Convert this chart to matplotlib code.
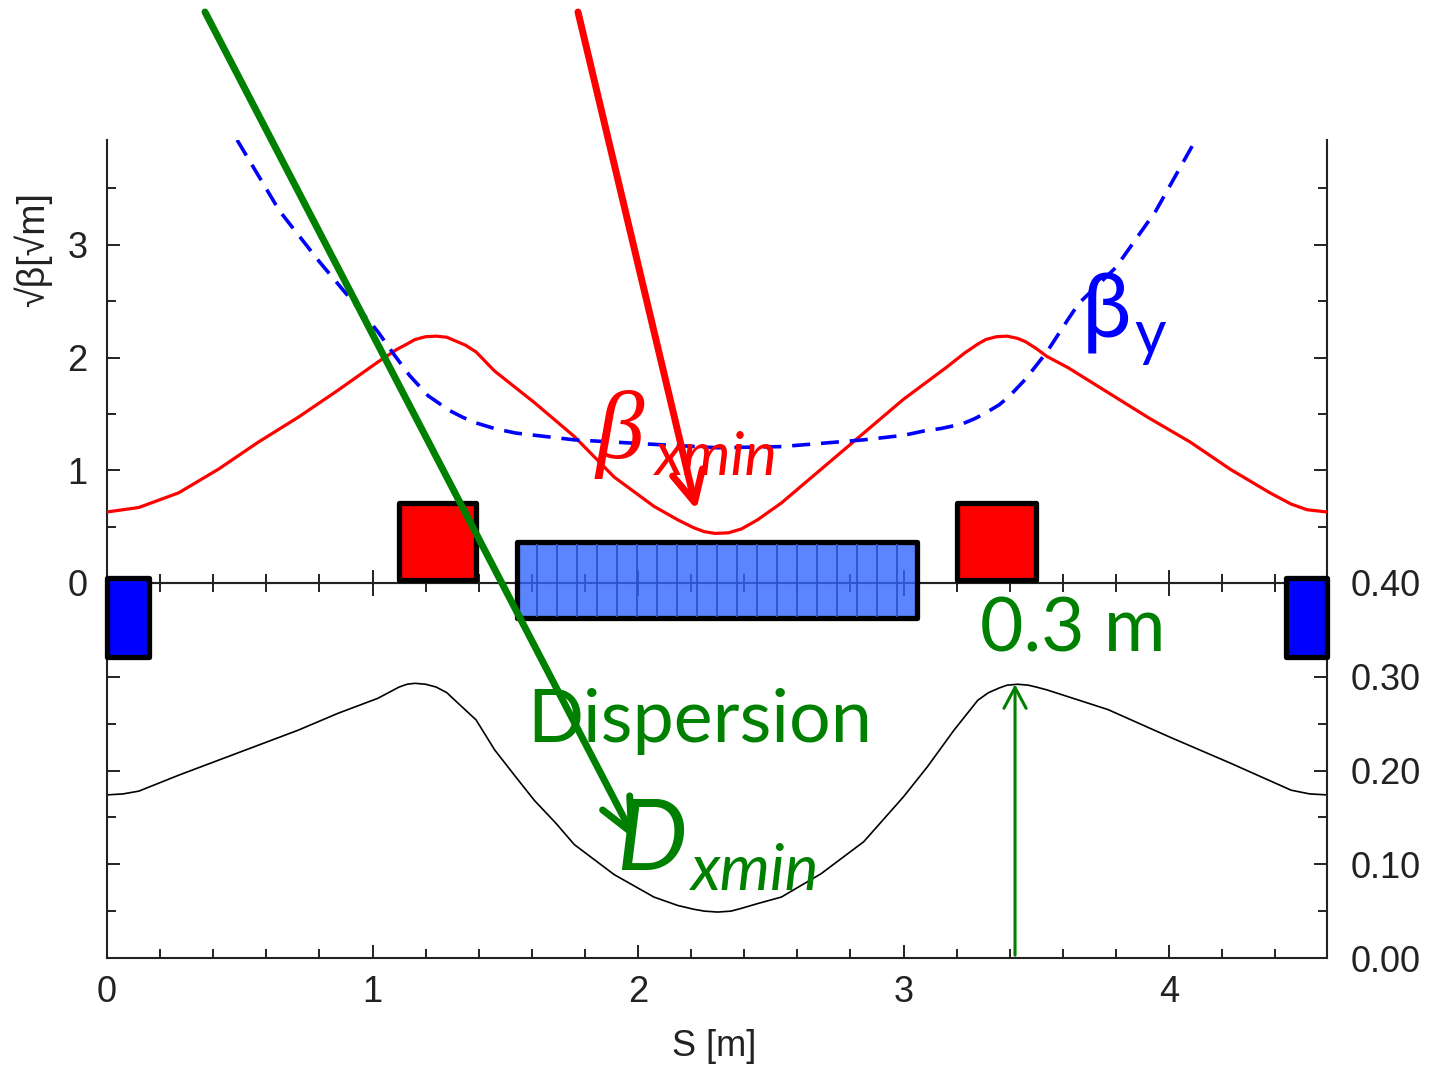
import matplotlib
matplotlib.use("Agg")
import matplotlib.pyplot as plt
from matplotlib.patches import Rectangle
from matplotlib.ticker import MultipleLocator, FormatStrFormatter

# sqrt(beta_x) [sqrt(m)]
s_bx = [0.00, 0.12, 0.27, 0.42, 0.57, 0.72, 0.87, 1.02, 1.09, 1.13, 1.16, 1.20,
        1.24, 1.28, 1.31, 1.35, 1.39, 1.46, 1.61, 1.76, 1.91, 2.06, 2.15, 2.21,
        2.25, 2.29, 2.34, 2.39, 2.45, 2.54, 2.69, 2.85, 3.00, 3.16, 3.23, 3.28,
        3.31, 3.35, 3.39, 3.43, 3.46, 3.50, 3.54, 3.62, 3.77, 3.92, 4.08, 4.23,
        4.38, 4.46, 4.52, 4.595]
bx = [0.63, 0.67, 0.80, 1.01, 1.25, 1.47, 1.71, 1.96, 2.07, 2.12, 2.16, 2.185,
      2.19, 2.18, 2.15, 2.11, 2.05, 1.88, 1.60, 1.30, 0.94, 0.68, 0.56, 0.49,
      0.455, 0.44, 0.445, 0.48, 0.56, 0.71, 1.01, 1.33, 1.63, 1.91, 2.04, 2.12,
      2.16, 2.185, 2.19, 2.17, 2.14, 2.08, 2.01, 1.91, 1.69, 1.47, 1.25, 1.01,
      0.80, 0.70, 0.65, 0.63]

# sqrt(beta_y)
s_by = [0.49, 0.65, 0.80, 0.96, 1.02, 1.08, 1.14, 1.21, 1.29, 1.34, 1.39, 1.46,
        1.54, 1.65, 1.76, 2.06, 2.30, 2.54, 2.85, 3.00, 3.08, 3.14, 3.22, 3.27,
        3.31, 3.36, 3.40, 3.46, 3.54, 3.62, 3.66, 3.80, 3.95, 4.10]
by = [3.93, 3.30, 2.85, 2.40, 2.23, 2.03, 1.84, 1.66, 1.53, 1.47, 1.42, 1.37,
      1.33, 1.30, 1.27, 1.23, 1.20, 1.21, 1.27, 1.31, 1.35, 1.37, 1.41, 1.46,
      1.51, 1.58, 1.66, 1.81, 2.05, 2.34, 2.48, 2.80, 3.30, 3.93]

# dispersion [m]
s_d = [0.00, 0.06, 0.12, 0.27, 0.42, 0.57, 0.72, 0.87, 1.02, 1.10, 1.13, 1.16,
       1.20, 1.24, 1.28, 1.31, 1.39, 1.46, 1.54, 1.61, 1.69, 1.76, 1.91, 2.06,
       2.15, 2.21, 2.25, 2.30, 2.35, 2.39, 2.45, 2.54, 2.69, 2.85, 3.00, 3.09,
       3.19, 3.28, 3.32, 3.36, 3.39, 3.43, 3.47, 3.50, 3.54, 3.77, 4.00, 4.23,
       4.46, 4.53, 4.595]
disp = [0.174, 0.175, 0.178, 0.195, 0.211, 0.227, 0.243, 0.261, 0.277, 0.289,
        0.292, 0.293, 0.292, 0.289, 0.283, 0.275, 0.254, 0.222, 0.193, 0.168,
        0.144, 0.121, 0.089, 0.065, 0.056, 0.052, 0.050, 0.049, 0.050, 0.053,
        0.058, 0.065, 0.090, 0.124, 0.172, 0.204, 0.243, 0.275, 0.283, 0.288,
        0.291, 0.292, 0.291, 0.289, 0.286, 0.265, 0.236, 0.208, 0.179, 0.175,
        0.174]

# lattice elements (start, end) in s [m]
bends = [(0.0, 0.16), (4.44, 4.595)]
quads = [(1.10, 1.39), (3.20, 3.50)]
solenoid = (1.545, 3.05)
n_cells = 20

S_MAX = 4.595
TICK_COL = "#222222"
GREEN = "#008000"
AX_FONT = ["Liberation Sans Narrow", "Liberation Sans", "DejaVu Sans"]
ANN_FONT = ["Lato", "DejaVu Sans"]

fig = plt.figure(figsize=(14.32, 10.67), dpi=100)
W, H = 1432.0, 1067.0
ax1 = fig.add_axes([107 / W, 1 - 583 / H, 1220 / W, 443 / H])
ax2 = fig.add_axes([107 / W, 1 - 958 / H, 1220 / W, 375 / H])
ax1.set_zorder(3)
ax1.patch.set_alpha(0)

ax1.plot(s_bx, bx, color="#ff0000", lw=2.3, zorder=3)
ax1.plot(s_by, by, color="#0000ff", lw=2.6, ls=(0, (5, 3)), zorder=3)
ax2.plot(s_d, disp, color="black", lw=1.2)

for ax in (ax1, ax2):
    ax.set_xlim(0, S_MAX)
    ax.xaxis.set_major_locator(MultipleLocator(1))
    ax.xaxis.set_minor_locator(MultipleLocator(0.2))
    for sp in ax.spines.values():
        sp.set_color(TICK_COL)
        sp.set_linewidth(1.5)
    ax.tick_params(which="both", direction="in", color=TICK_COL, width=1.4,
                   labelcolor=TICK_COL, labelsize=26)
    ax.tick_params(which="major", length=9.5)
    ax.tick_params(which="minor", length=6.5)

ax1.set_ylim(0, 3.93)
ax1.yaxis.set_major_locator(MultipleLocator(1))
ax1.yaxis.set_minor_locator(MultipleLocator(0.5))
ax1.spines["top"].set_visible(False)
ax1.tick_params(which="both", left=True, right=True, bottom=True, top=False,
                labelbottom=False, labelleft=True, pad=14)
ax1.set_ylabel("√β[√m]", fontsize=27, family=AX_FONT, color=TICK_COL)
ax1.yaxis.set_label_coords(-0.045, 0.752)

ax2.set_ylim(0, 0.40)
ax2.yaxis.set_major_locator(MultipleLocator(0.1))
ax2.yaxis.set_minor_locator(MultipleLocator(0.05))
ax2.yaxis.set_major_formatter(FormatStrFormatter("%.2f"))
ax2.tick_params(which="both", left=True, right=True, top=True, bottom=True,
                labelleft=False, labelright=True)
ax2.tick_params(axis="y", pad=17)
ax2.tick_params(axis="x", pad=12)
ax2.set_xlabel("S [m]", fontsize=26, family=AX_FONT, color=TICK_COL)
ax2.xaxis.set_label_coords(0.498, -0.19)

for ax in (ax1, ax2):
    for lab in ax.get_xticklabels() + ax.get_yticklabels():
        lab.set_family(AX_FONT)

# lattice drawn over the boundary of the two panels
edge = dict(edgecolor="black", lw=3.8, joinstyle="round", clip_on=False, zorder=6)
for a, b in bends:
    ax1.add_patch(Rectangle((a, -0.66), b - a, 0.70, facecolor="#0000ff", **edge))
for a, b in quads:
    ax1.add_patch(Rectangle((a, 0.03), b - a, 0.68, facecolor="#ff0000", **edge))
a, b = solenoid
ax1.add_patch(Rectangle((a, -0.31), b - a, 0.67,
                        facecolor=(0.196, 0.397, 1.0, 0.8), **edge))
cell = (b - a) / n_cells
for i in range(1, n_cells):
    ax1.plot([a + i * cell] * 2, [-0.29, 0.34], color="#2e52cc", lw=1.3,
             zorder=6.5, clip_on=False)

# annotations (positions in figure pixels)
ax1.annotate("", xy=(2.22, 0.65), xytext=(578, H - 12), textcoords="figure pixels",
             annotation_clip=False, zorder=10,
             arrowprops=dict(arrowstyle="->,head_length=22,head_width=11",
                             mutation_scale=1, color="#ff0000", lw=5,
                             shrinkA=0, shrinkB=0))
ax1.annotate("", xy=(1.99, 0.126), xycoords=ax2.transData, xytext=(205, H - 12),
             textcoords="figure pixels", annotation_clip=False, zorder=10,
             arrowprops=dict(arrowstyle="->,head_length=24,head_width=11",
                             mutation_scale=1, color=GREEN, lw=5,
                             shrinkA=0, shrinkB=0))
ax2.annotate("", xy=(3.42, 0.292), xytext=(3.42, 0.003), annotation_clip=False,
             arrowprops=dict(arrowstyle="->,head_length=15,head_width=8",
                             mutation_scale=1, color=GREEN, lw=2.2,
                             shrinkA=0, shrinkB=0))

def ftext(x, y, s, **kw):
    fig.text(x / W, 1 - y / H, s, va="baseline", ha="left", **kw)

ftext(596, 458, "β", color="#ff0000", fontsize=70, style="italic",
      family=["Liberation Serif"])
ftext(655, 475, "xmin", color="#ff0000", fontsize=44, style="italic", family=ANN_FONT)
ftext(1082, 338, "β", color="#0000ff", fontsize=64, family=ANN_FONT)
ftext(1134, 354, "y", color="#0000ff", fontsize=44, family=ANN_FONT)
ftext(980, 652, "0.3 m", color=GREEN, fontsize=54, family=ANN_FONT)
ftext(527, 742, "Dispersion", color=GREEN, fontsize=53, family=ANN_FONT)
ftext(616, 870, "D", color=GREEN, fontsize=72, style="italic", family=ANN_FONT)
ftext(690, 890, "xmin", color=GREEN, fontsize=46, style="italic", family=ANN_FONT)

fig.savefig("out.png", dpi=100)
